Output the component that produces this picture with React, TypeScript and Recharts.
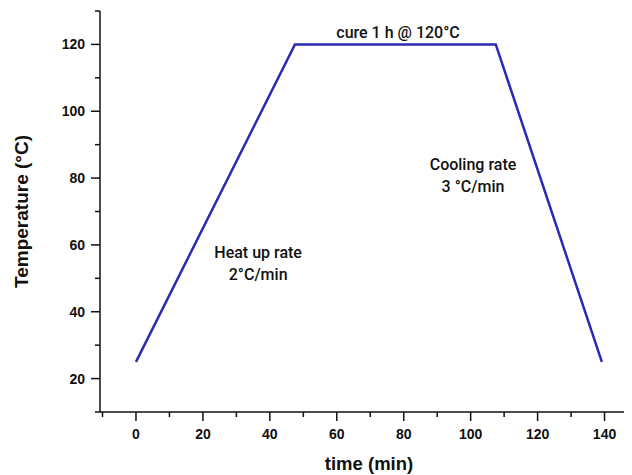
import { LineChart, Line, XAxis, YAxis, ReferenceDot } from 'recharts';

const time = [0, 47.5, 107.5, 139.2];
const temperature = [25, 120, 120, 25];
const xTicks = [-10, 0, 10, 20, 30, 40, 50, 60, 70, 80, 90, 100, 110, 120, 130, 140, 150];
const yTicks = [10, 20, 30, 40, 50, 60, 70, 80, 90, 100, 110, 120, 130];

const notes = [
  { x: 78.3, y: 123.6, lines: ['cure 1 h @ 120°C'] },
  { x: 36.5, y: 54.5, lines: ['Heat up rate', '2°C/min'] },
  { x: 100.7, y: 80.7, lines: ['Cooling rate', '3 °C/min'] },
];

const data = time.map((t, i) => ({ time: t, temp: temperature[i] }));

const LINE = '#2a2ab8';
const tickFont = { fontFamily: '"Liberation Sans", Arial, sans-serif', fontWeight: 700, fontSize: 14, fill: '#111' };
const noteFont = { fontFamily: 'Roboto, sans-serif', fontWeight: 500, fontSize: 16, fill: '#111' };

function XTick({ x, y, payload }: any) {
  const major = payload.value % 20 === 0;
  return (
    <g>
      <line x1={x} y1={y} x2={x} y2={y + (major ? 9 : 5)} stroke="#111" strokeWidth={1.5} />
      {major && payload.value >= 0 && payload.value <= 140 && (
        <text x={x} y={y + 27} textAnchor="middle" {...tickFont}>
          {payload.value}
        </text>
      )}
    </g>
  );
}

function YTick({ x, y, payload }: any) {
  const major = payload.value % 20 === 0;
  return (
    <g>
      <line x1={x - (major ? 9 : 5)} y1={y} x2={x} y2={y} stroke="#111" strokeWidth={1.5} />
      {major && (
        <text x={x - 15} y={y} dy="0.36em" textAnchor="end" {...tickFont}>
          {payload.value}
        </text>
      )}
    </g>
  );
}

function XTitle({ viewBox }: any) {
  return (
    <text x={viewBox.x + viewBox.width / 2} y={viewBox.y + 58} textAnchor="middle" {...tickFont} fontSize={18.5}>
      time (min)
    </text>
  );
}

function noteLabel(lines: string[]) {
  return (props: any) => {
    const { viewBox } = props;
    const cx = viewBox.x + (viewBox.width || 0) / 2;
    const cy = viewBox.y + (viewBox.height || 0) / 2;
    const lh = 22;
    const start = cy - ((lines.length - 1) * lh) / 2;
    return (
      <text textAnchor="middle" {...noteFont}>
        {lines.map((l, i) => (
          <tspan key={i} x={cx} y={start + i * lh} dy="0.35em">
            {l}
          </tspan>
        ))}
      </text>
    );
  };
}

export default function App() {
  return (
    <div style={{ margin: '-8px -8px 0 -8px', width: 632, height: 475, overflow: 'hidden', background: '#fff' }}>
      <LineChart width={640} height={475} data={data} margin={{ top: 11, right: 2, left: 0, bottom: 0 }}>
        <XAxis
          dataKey="time"
          type="number"
          domain={[-10.75, 150]}
          ticks={xTicks}
          interval={0}
          tickSize={0}
          tickMargin={0}
          tickLine={false}
          tick={<XTick />}
          height={63}
          stroke="#111"
          strokeWidth={1.5}
          allowDataOverflow
          label={<XTitle />}
        />
        <YAxis
          type="number"
          domain={[10, 130]}
          ticks={yTicks}
          interval={0}
          tickSize={0}
          tickMargin={0}
          tickLine={false}
          tick={<YTick />}
          width={100}
          stroke="#111"
          strokeWidth={1.5}
          allowDataOverflow
          label={{
            value: 'Temperature (°C)',
            angle: -90,
            position: 'insideLeft',
            offset: 21,
            style: { ...tickFont, fontSize: 19, textAnchor: 'middle' },
          }}
        />
        <Line
          dataKey="temp"
          type="linear"
          stroke={LINE}
          strokeWidth={2.5}
          dot={false}
          activeDot={false}
          isAnimationActive={false}
        />
        {notes.map((n, i) => (
          <ReferenceDot key={i} x={n.x} y={n.y} r={0} fill="none" stroke="none" label={noteLabel(n.lines)} />
        ))}
      </LineChart>
    </div>
  );
}
